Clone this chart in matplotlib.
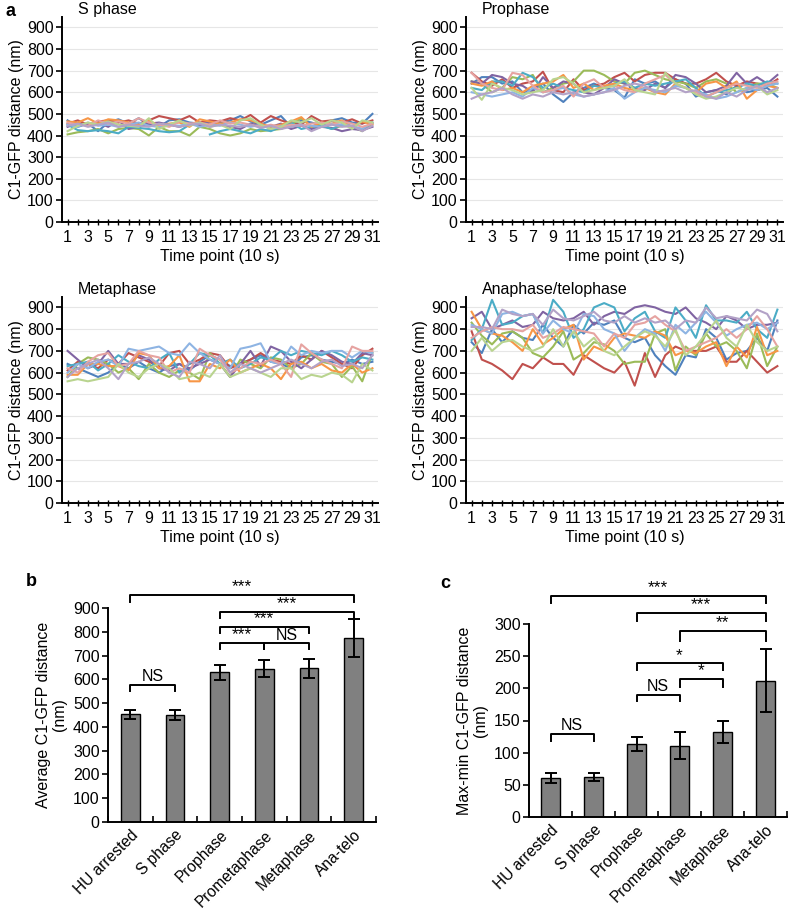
import numpy as np
import matplotlib
matplotlib.use("Agg")
import matplotlib.pyplot as plt

plt.rcParams['font.family'] = ['Liberation Sans', 'DejaVu Sans']
plt.rcParams['font.size'] = 11

#%% DATA
time_points = np.arange(1, 32)
nan = np.nan

# S phase traces (nm)
s_phase = [
    [470, 440, 455, 420, 460, 475, 455, 480, 450, 440, 470, 475, 460, 455, 465, 460, 470, 490, 465, 450, 470, 490, 440, 470, 460, 445, 470, 480, 460, 455, 500],
    [455, 470, 450, 465, 470, 460, 470, 455, 470, 490, 480, 470, 490, 460, 470, 465, 480, 470, 495, 460, 490, 470, 455, 450, 490, 465, 470, 460, 475, 455, 470],
    [405, 415, 420, 430, 410, 430, 435, 430, 400, 440, 420, 420, 400, 440, 430, 410, 400, 410, 430, 420, 425, 430, 450, 480, 440, 450, 430, 445, 440, 420, 455],
    [440, 455, 450, 460, 440, 470, 430, 440, 455, 460, 450, 440, 455, 445, 460, 450, 440, 430, 455, 445, 440, 455, 430, 445, 430, 440, 435, 420, 430, 425, 440],
    [450, 425, 420, 425, 420, 410, 440, 435, 430, 420, 415, 420, 450, nan, 405, 420, 430, 420, 410, 430, 420, 440, 460, 430, 440, 445, 430, 450, 440, 430, 460],
    [465, 460, 480, 455, 475, 470, 460, 450, 470, 445, 455, 460, 440, 475, 465, 455, 460, 475, 470, 455, 440, 450, 465, 485, 440, 460, 455, 470, 440, 465, 450],
    [450, 440, 460, 445, 450, 440, 450, 460, 445, 440, 450, 445, 455, 440, 450, 445, 460, 450, 440, 450, 430, 445, 440, 450, 445, 440, 455, 450, 445, 430, 460],
    [460, 450, 445, 470, 455, 465, 455, 480, 460, 450, 440, 465, 455, 460, 450, 470, 455, 460, 450, 440, 450, 440, 450, 445, 455, 460, 450, 465, 455, 440, 455],
    [420, 445, 460, 450, 465, 450, 445, 440, 480, 430, 450, 470, 445, 460, 440, 450, 430, 470, 480, 450, 430, 440, 470, 460, 480, 450, 470, 460, 430, 470, 460],
    [445, 455, 440, 450, 460, 440, 450, 445, 440, 455, 450, 440, 450, 455, 440, 450, 445, 440, 450, 435, 445, 430, 440, 450, 420, 440, 450, 440, 445, 420, 445],
]

# Prophase traces (nm)
prophase = [
    [640, 670, 670, 640, 650, 600, 610, 640, 590, 555, 600, 620, 640, 620, 610, 575, 660, 640, 650, 620, 660, 640, 580, 600, 610, 590, 630, 600, 610, 620, 580],
    [690, 650, 630, 660, 620, 640, 650, 695, 610, 600, 660, 610, 630, 640, 670, 690, 650, 680, 690, 690, 660, 640, 640, 660, 690, 650, 630, 650, 640, 630, 660],
    [650, 640, 600, 620, 670, 660, 680, 600, 620, 640, 650, 700, 700, 680, 650, 640, 690, 700, 680, 660, 650, 640, 620, 650, 660, 640, 600, 620, 640, 640, 620],
    [650, 640, 680, 670, 640, 630, 600, 670, 620, 650, 640, 600, 590, 620, 660, 640, 620, 610, 640, 620, 680, 670, 640, 600, 610, 630, 690, 640, 670, 640, 680],
    [620, 610, 650, 650, 630, 690, 670, 620, 640, 620, 610, 600, 630, 620, 640, 650, 620, 640, 630, 640, 650, 660, 620, 580, 600, 610, 620, 640, 630, 650, 640],
    [640, 630, 650, 610, 620, 600, 630, 640, 650, 680, 620, 640, 610, 630, 640, 620, 610, 620, 600, 590, 640, 620, 600, 640, 650, 620, 650, 570, 610, 630, 620],
    [600, 590, 580, 590, 600, 580, 620, 600, 610, 620, 590, 580, 590, 600, 620, 570, 600, 620, 610, 600, 630, 620, 600, 590, 570, 580, 600, 620, 610, 630, 640],
    [690, 640, 620, 610, 690, 680, 630, 600, 610, 630, 580, 640, 660, 620, 630, 610, 600, 640, 660, 680, 640, 620, 600, 580, 600, 620, 640, 630, 620, 640, 650],
    [620, 565, 640, 620, 610, 590, 600, 610, 660, 670, 640, 600, 610, 620, 630, 660, 610, 600, 590, 690, 640, 620, 590, 570, 580, 600, 620, 610, 630, 590, 610],
    [570, 590, 600, 620, 590, 570, 590, 580, 600, 590, 600, 580, 590, 600, 610, 630, 640, 630, 600, 610, 620, 600, 610, 580, 570, 600, 580, 610, 630, 600, 620],
]

# Metaphase traces (nm)
metaphase = [
    [640, 620, 600, 580, 600, 640, 620, 650, 620, 600, 630, 640, 610, 650, 680, 660, 630, 640, 660, 680, 650, 640, 620, 670, 680, 660, 650, 640, 660, 640, 650],
    [610, 650, 640, 620, 660, 640, 690, 670, 650, 630, 690, 700, 640, 660, 690, 680, 620, 640, 660, 690, 660, 650, 640, 680, 660, 700, 670, 640, 620, 680, 710],
    [580, 640, 670, 660, 640, 600, 620, 570, 640, 600, 580, 610, 600, 570, 690, 640, 580, 660, 640, 620, 670, 660, 620, 640, 690, 650, 640, 580, 630, 560, 690],
    [700, 660, 620, 640, 700, 640, 640, 680, 660, 620, 610, 640, 620, 640, 660, 640, 580, 640, 700, 630, 720, 700, 650, 620, 660, 700, 680, 650, 640, 690, 680],
    [630, 640, 650, 610, 640, 680, 650, 630, 620, 660, 690, 600, 640, 690, 680, 640, 660, 620, 640, 670, 660, 700, 680, 700, 690, 680, 700, 680, 650, 670, 660],
    [590, 590, 640, 640, 630, 630, 610, 690, 680, 620, 630, 680, 560, 560, 640, 620, 660, 600, 620, 640, 620, 570, 640, 650, 620, 640, 610, 600, 640, 600, 620],
    [600, 640, 620, 650, 660, 630, 710, 700, 710, 720, 690, 680, 735, 690, 660, 640, 620, 710, 720, 735, 650, 640, 720, 680, 700, 690, 700, 700, 670, 700, 690],
    [620, 600, 650, 680, 690, 630, 640, 700, 680, 670, 600, 620, 600, 710, 680, 660, 600, 620, 650, 640, 660, 640, 580, 730, 690, 660, 640, 620, 720, 700, 700],
    [560, 570, 560, 570, 580, 640, 600, 580, 620, 640, 620, 570, 580, 600, 580, 640, 580, 600, 620, 600, 580, 620, 620, 570, 590, 580, 600, 590, 555, 640, 610],
    [580, 620, 640, 660, 620, 570, 640, 650, 670, 640, 600, 580, 650, 640, 620, 680, 600, 640, 620, 600, 620, 640, 660, 640, 620, 650, 660, 630, 640, 620, 680],
]

# Anaphase/telophase traces (nm)
anaphase = [
    [740, 690, 800, 740, 790, 760, 750, 820, 760, 720, 820, 780, 830, 820, 840, 760, 740, 760, 680, 630, 590, 680, 670, 800, 760, 660, 690, 700, 760, 700, 840],
    [790, 660, 640, 610, 570, 640, 620, 670, 640, 640, 590, 680, 650, 620, 600, 650, 540, 690, 580, 680, 720, 700, 700, 700, 720, 650, 650, 700, 650, 600, 630],
    [830, 770, 730, 780, 790, 760, 690, 670, 720, 790, 660, 690, 740, 730, 700, 640, 650, 650, 780, 800, 610, 720, 680, 780, 720, 740, 700, 620, 780, 630, 720],
    [850, 880, 800, 820, 840, 810, 820, 880, 850, 840, 850, 880, 820, 860, 880, 870, 900, 910, 900, 880, 870, 900, 850, 830, 800, 860, 840, 800, 820, 820, 830],
    [750, 800, 935, 820, 830, 860, 870, 780, 935, 880, 760, 800, 900, 920, 900, 790, 850, 880, 790, 760, 900, 840, 760, 910, 840, 840, 830, 880, 800, 760, 890],
    [880, 800, 780, 770, 740, 700, 800, 730, 760, 800, 820, 660, 720, 700, 760, 780, 770, 760, 790, 770, 680, 700, 690, 720, 740, 630, 720, 670, 810, 680, 700],
    [820, 800, 780, 870, 880, 860, 870, 780, 840, 800, 780, 870, 860, 800, 780, 700, 760, 800, 780, 700, 820, 780, 830, 880, 830, 770, 800, 820, 830, 800, 830],
    [760, 790, 810, 800, 800, 790, 820, 760, 780, 810, 800, 790, 780, 720, 780, 760, 820, 830, 860, 820, 790, 700, 720, 740, 760, 800, 760, 800, 860, 800, 720],
    [700, 760, 700, 740, 750, 720, 700, 720, 800, 720, 790, 720, 760, 700, 680, 720, 760, 790, 770, 720, 800, 680, 720, 780, 840, 760, 720, 820, 740, 700, 720],
    [810, 810, 800, 890, 870, 860, 870, 820, 890, 850, 840, 860, 880, 840, 830, 860, 830, 850, 830, 840, 800, 840, 830, 900, 850, 860, 850, 840, 890, 870, 790],
]

trace_colors = ['#4F81BD', '#C0504D', '#9BBB59', '#8064A2', '#4BACC6', '#F79646',
                '#8EB4E3', '#E6A3A1', '#B9D48F', '#B3A2C7']

# bar panels
phases = ['HU arrested', 'S phase', 'Prophase', 'Prometaphase', 'Metaphase', 'Ana-telo']
avg_dist = [453, 450, 630, 645, 647, 772]
avg_err = [20, 20, 32, 35, 40, 80]
maxmin_dist = [61, 62, 114, 111, 132, 212]
maxmin_err = [8, 6, 11, 21, 17, 49]

# significance brackets: (i, j, height, leg, label)
sig_b = [(0, 5, 955, 30, '***'), (2, 5, 885, 25, '***'), (2, 4, 820, 25, '***'),
         (2, 3, 752, 25, '***'), (3, 4, 752, 25, 'NS'), (0, 1, 577, 25, 'NS')]
sig_c = [(0, 5, 344, 11, '***'), (2, 5, 317, 12, '***'), (3, 5, 289, 15, '**'),
         (2, 4, 239, 11, '*'), (3, 4, 215, 13, '*'), (2, 3, 190, 10, 'NS'), (0, 1, 129, 11, 'NS')]

#%% FIGURE
W, H = 788, 910
FS = 11.5
fig = plt.figure(figsize=(W / 100, H / 100), dpi=100)

def px_axes(x0, y_top, x1, y_bot):
    return fig.add_axes([x0 / W, 1 - y_bot / H, (x1 - x0) / W, (y_bot - y_top) / H])

def line_panel(ax, traces, title):
    for tr, col in zip(traces, trace_colors):
        ax.plot(time_points, tr, color=col, lw=1.5, zorder=3)
    ax.set_xlim(0.45, 31.55)
    ax.set_ylim(0, 948)
    ax.set_yticks(np.arange(0, 1000, 100))
    ax.set_xticks(time_points)
    ax.set_xticklabels([str(t) if t % 2 == 1 else '' for t in time_points])
    ax.grid(axis='y', color='#e6e6e6', lw=0.8, zorder=0)
    ax.set_axisbelow(True)
    for s in ['top', 'right']:
        ax.spines[s].set_visible(False)
    ax.spines['left'].set_linewidth(1.4)
    ax.spines['bottom'].set_linewidth(1.4)
    ax.tick_params(axis='y', direction='out', length=4, width=1.2, labelsize=FS, pad=2)
    ax.tick_params(axis='x', direction='inout', length=5, width=1.0, labelsize=FS, pad=3)
    ax.set_xlabel('Time point (10 s)', fontsize=FS, labelpad=3)
    ax.set_ylabel('C1-GFP distance (nm)', fontsize=FS, labelpad=2)
    ax.text(0.05, 1.0, title, transform=ax.transAxes, fontsize=FS, va='bottom', ha='left')

ax1 = px_axes(62, 17, 378, 222)
ax2 = px_axes(466, 17, 783, 222)
ax3 = px_axes(62, 297, 378, 503)
ax4 = px_axes(466, 297, 783, 503)
line_panel(ax1, s_phase, 'S phase')
line_panel(ax2, prophase, 'Prophase')
line_panel(ax3, metaphase, 'Metaphase')
line_panel(ax4, anaphase, 'Anaphase/telophase')

def bar_panel(ax, vals, errs, ymax, step, ylabel, sigs):
    x = np.arange(len(phases))
    ax.bar(x, vals, width=0.42, color='#808080', edgecolor='black', lw=1.0, zorder=2)
    ax.errorbar(x, vals, yerr=errs, fmt='none', ecolor='black', elinewidth=1.4,
                capsize=4.5, capthick=1.4, zorder=3)
    ax.set_xlim(-0.5, len(phases) - 0.5)
    ax.set_ylim(0, ymax)
    ax.set_yticks(np.arange(0, ymax + 1, step))
    ax.set_xticks(x)
    ax.set_xticklabels(phases, rotation=45, ha='right', rotation_mode='anchor', fontsize=11.2)
    ax.set_xticks(np.arange(-0.5, len(phases)), minor=True)
    ax.tick_params(axis='x', which='major', length=0, pad=4)
    ax.tick_params(axis='x', which='minor', direction='in', length=4, width=1.2)
    ax.tick_params(axis='y', direction='out', length=4, width=1.2, labelsize=FS, pad=2)
    for s in ['top', 'right']:
        ax.spines[s].set_visible(False)
    ax.spines['left'].set_linewidth(1.4)
    ax.spines['bottom'].set_linewidth(1.4)
    ax.set_ylabel(ylabel, fontsize=FS, labelpad=4, linespacing=1.1)
    for i, j, yy, leg, lab in sigs:
        ax.plot([i, i, j, j], [yy - leg, yy, yy, yy - leg], color='black', lw=1.4, clip_on=False)
        ax.text((i + j) / 2, yy + ymax * 0.003, lab, ha='center', va='bottom',
                fontsize=12.5 if '*' in lab else FS, clip_on=False)

axb = px_axes(108, 608, 376, 822)
bar_panel(axb, avg_dist, avg_err, 900, 100, 'Average C1-GFP distance\n(nm)', sig_b)
axc = px_axes(529, 624, 787, 817)
bar_panel(axc, maxmin_dist, maxmin_err, 300, 50, 'Max-min C1-GFP distance\n(nm)', sig_c)

fig.text(5 / W, 1 - 12 / H, 'a', fontsize=13, fontweight='bold', va='center')
fig.text(26 / W, 1 - 581 / H, 'b', fontsize=13, fontweight='bold', va='center')
fig.text(440 / W, 1 - 583 / H, 'c', fontsize=13, fontweight='bold', va='center')

fig.savefig('out.png', dpi=100)
